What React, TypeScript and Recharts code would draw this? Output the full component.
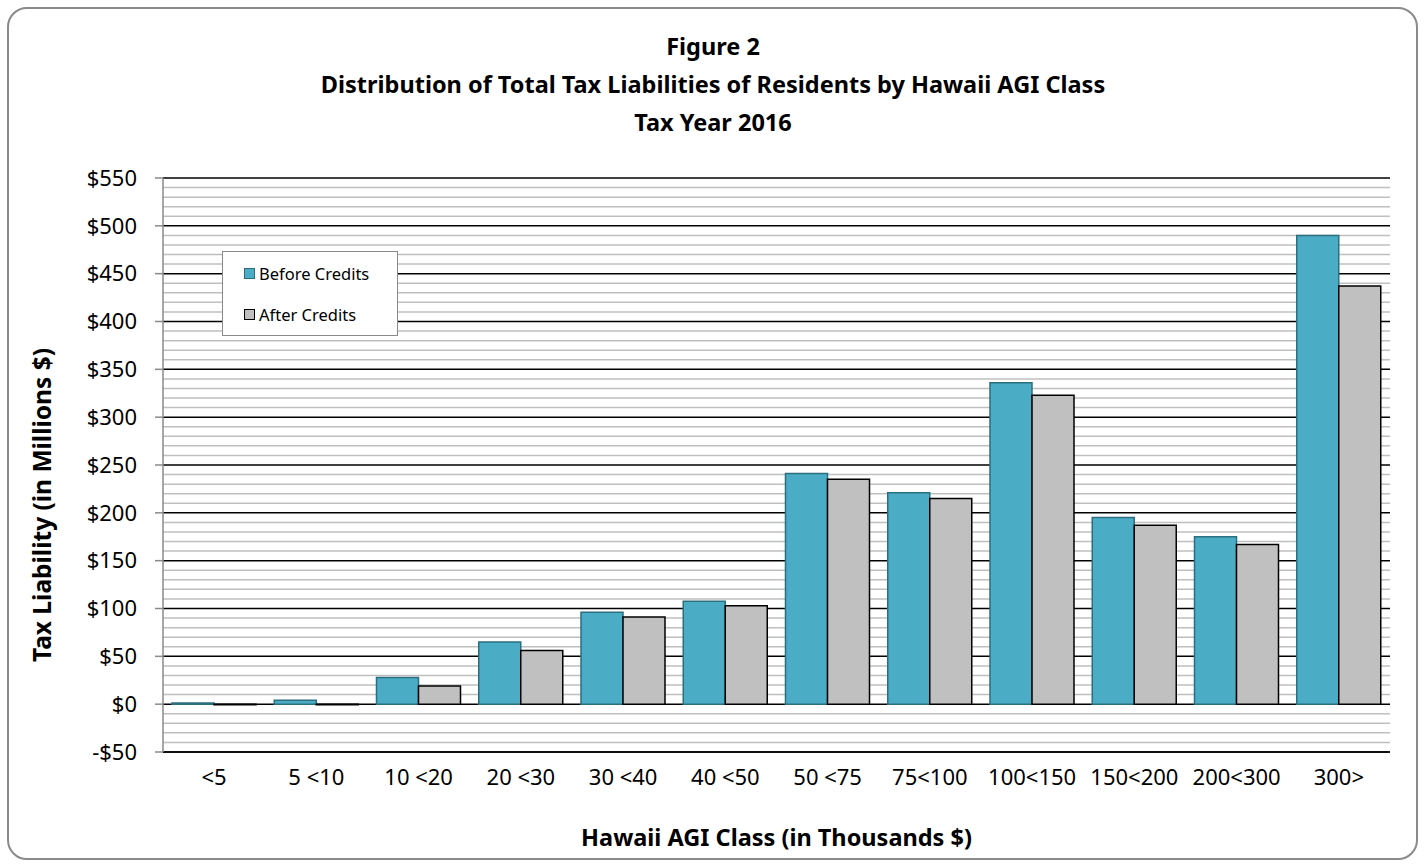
import React from 'react';
import { BarChart, Bar, XAxis, YAxis, CartesianGrid, Legend } from 'recharts';

const categories = ['<5', '5 <10', '10 <20', '20 <30', '30 <40', '40 <50', '50 <75', '75<100', '100<150', '150<200', '200<300', '300>'];
const beforeCredits = [1.2, 4, 28, 65, 96, 107.5, 241, 221, 336, 195, 175, 490];
const afterCredits = [-0.6, -0.6, 19, 56, 91, 103, 235, 215, 323, 187, 167, 437];
const majorTicks = [-50, 0, 50, 100, 150, 200, 250, 300, 350, 400, 450, 500, 550];

const titleLines = ['Figure 2', 'Distribution of Total Tax Liabilities of Residents by Hawaii AGI Class', 'Tax Year 2016'];

// minor grid every 10, skipping the major lines
const minorTicks: number[] = [];
for (let v = -40; v < 550; v += 10) {
  if (v % 50 !== 0) minorTicks.push(v);
}

const data = categories.map((name, i) => ({
  name,
  before: beforeCredits[i],
  after: afterCredits[i],
}));

const FONT = '"Noto Sans", "Open Sans", sans-serif';
const BEFORE_FILL = '#4bacc6';
const BEFORE_STROKE = '#2b6e80';
const AFTER_FILL = '#c0c0c0';

const W = 1426;
const H = 865;

const LegendBox = () => (
  <div
    style={{
      width: 176,
      height: 85,
      border: '1.5px solid #8a8a8a',
      background: '#fff',
      fontFamily: FONT,
      fontSize: 16.5,
      color: '#000',
      boxSizing: 'border-box',
      position: 'relative',
    }}
  >
    {[
      { label: 'Before Credits', fill: BEFORE_FILL, stroke: BEFORE_STROKE, top: 21 },
      { label: 'After Credits', fill: AFTER_FILL, stroke: '#000', top: 62 },
    ].map((it) => (
      <div key={it.label} style={{ position: 'absolute', left: 21, top: it.top - 11, height: 22, display: 'flex', alignItems: 'center' }}>
        <span style={{ width: 9, height: 9, background: it.fill, border: `1.5px solid ${it.stroke}`, display: 'inline-block', marginRight: 4 }} />
        <span>{it.label}</span>
      </div>
    ))}
  </div>
);

export default function App() {
  return (
    <div style={{ position: 'absolute', left: 0, top: 0, width: W, height: H, background: '#fff' }}>
      <div
        style={{
          position: 'absolute',
          left: 7,
          top: 7,
          width: 1411,
          height: 853,
          border: '2px solid #8a8a8a',
          borderRadius: 20,
          boxSizing: 'border-box',
        }}
      />
      {titleLines.map((t, i) => (
        <div
          key={t}
          style={{
            position: 'absolute',
            left: 0,
            width: W,
            top: 46 + i * 38 - 17,
            height: 34,
            lineHeight: '34px',
            textAlign: 'center',
            fontFamily: FONT,
            fontWeight: 700,
            fontSize: 23.5,
            color: '#000',
          }}
        >
          {t}
        </div>
      ))}
      <div
        style={{
          position: 'absolute',
          left: 163,
          width: 1227,
          top: 837 - 16,
          height: 32,
          lineHeight: '32px',
          textAlign: 'center',
          fontFamily: FONT,
          fontWeight: 700,
          fontSize: 23.5,
        }}
      >
        Hawaii AGI Class (in Thousands $)
      </div>
      <div
        style={{
          position: 'absolute',
          left: 42 - 250,
          top: 505 - 16,
          width: 500,
          height: 32,
          lineHeight: '32px',
          textAlign: 'center',
          fontFamily: FONT,
          fontWeight: 700,
          fontSize: 24.5,
          transform: 'rotate(-90deg)',
        }}
      >
        Tax Liability (in Millions $)
      </div>
      <div style={{ position: 'absolute', left: 0, top: 0 }}>
        <BarChart
          width={W}
          height={H}
          data={data}
          margin={{ top: 178, right: 36, bottom: 83, left: 83 }}
          barCategoryGap={9}
          barGap={0}
        >
          <CartesianGrid horizontal vertical={false} horizontalValues={minorTicks} stroke="#bfbfbf" strokeWidth={1.5} />
          <CartesianGrid horizontal vertical={false} horizontalValues={majorTicks} stroke="#000" strokeWidth={1.5} />
          <XAxis
            dataKey="name"
            height={30}
            axisLine={{ stroke: '#000', strokeWidth: 1.5 }}
            tickLine={false}
            tickSize={0}
            tickMargin={17}
            interval={0}
            tick={{ fill: '#000', fontSize: 22, fontFamily: FONT }}
          />
          <YAxis
            width={80}
            domain={[-50, 550]}
            ticks={majorTicks}
            interval={0}
            allowDataOverflow
            axisLine={{ stroke: '#8a8a8a', strokeWidth: 1.5 }}
            tickLine={{ stroke: '#8a8a8a', strokeWidth: 1.5 }}
            tickSize={8}
            tickMargin={18}
            tick={{ fill: '#000', fontSize: 22, fontFamily: FONT }}
            tickFormatter={(v: number) => (v < 0 ? `-$${Math.abs(v)}` : `$${v}`)}
          />
          <Legend
            layout="vertical"
            align="center"
            verticalAlign="middle"
            content={() => <LegendBox />}
            wrapperStyle={{ left: 222, top: 251, width: 176, height: 85 }}
          />
          <Bar dataKey="before" name="Before Credits" fill={BEFORE_FILL} stroke={BEFORE_STROKE} strokeWidth={1.5} isAnimationActive={false} />
          <Bar dataKey="after" name="After Credits" fill={AFTER_FILL} stroke="#000" strokeWidth={1.5} isAnimationActive={false} />
        </BarChart>
      </div>
    </div>
  );
}
